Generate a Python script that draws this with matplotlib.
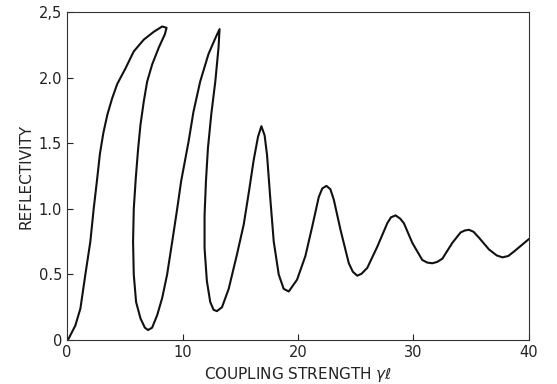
import matplotlib.pyplot as plt
import numpy as np

# coupling strength (gamma*l) and reflectivity in order
coupling = [0, 0.14, 0.72, 1.16, 1.59, 2.02, 2.31, 2.6, 2.85, 3.15, 3.5, 3.9,
            4.34, 5.06, 5.78, 6.65, 7.52, 8.24, 8.62,
            8.47, 7.95, 7.37, 6.94, 6.65, 6.36, 6.16, 5.96, 5.78, 5.72,
            5.78, 5.98, 6.36, 6.74, 7.02, 7.37, 7.81, 8.24, 8.67, 9.11,
            9.54, 9.88, 10.52, 10.95, 11.53, 12.25, 12.84, 13.21,
            13.12, 12.84, 12.49, 12.2, 12.03, 11.91, 11.91, 12.11, 12.4,
            12.69, 12.98, 13.42, 14.0, 14.71, 15.3, 15.75, 16.16, 16.54,
            16.83, 17.11, 17.32, 17.6, 17.9, 18.33, 18.76, 19.2,
            19.92, 20.64, 21.22, 21.8, 22.1, 22.46, 22.8, 23.1, 23.68, 24.4,
            24.75, 25.13, 25.5,
            26.0, 26.86, 27.73, 28.05, 28.45, 28.85, 29.17, 29.9, 30.76, 31.2,
            31.63, 32.05, 32.5, 33.36, 34.08, 34.45, 34.8, 35.2, 35.67, 36.54,
            37.2, 37.7, 38.2, 38.71, 40.0]
reflectivity = [0, 0.01, 0.11, 0.24, 0.50, 0.75, 1.0, 1.22, 1.42, 1.58, 1.72, 1.84,
                1.95, 2.07, 2.20, 2.29, 2.35, 2.39, 2.38,
                2.33, 2.23, 2.10, 1.97, 1.82, 1.64, 1.46, 1.24, 1.0, 0.75,
                0.50, 0.29, 0.165, 0.094, 0.076, 0.094, 0.19, 0.32, 0.50, 0.75,
                1.0, 1.21, 1.51, 1.74, 1.97, 2.18, 2.30, 2.37,
                2.23, 1.97, 1.72, 1.46, 1.21, 0.95, 0.70, 0.45, 0.29,
                0.23, 0.22, 0.25, 0.39, 0.65, 0.88, 1.13, 1.37, 1.55,
                1.63, 1.56, 1.41, 1.08, 0.75, 0.50, 0.39, 0.37,
                0.46, 0.64, 0.86, 1.09, 1.155, 1.175, 1.15, 1.07, 0.84, 0.585,
                0.52, 0.49, 0.505,
                0.55, 0.71, 0.89, 0.935, 0.95, 0.925, 0.89, 0.74, 0.61, 0.59,
                0.585, 0.595, 0.62, 0.74, 0.82, 0.835, 0.84, 0.825, 0.78, 0.69,
                0.645, 0.63, 0.64, 0.675, 0.77]

xticks = [0, 10, 20, 30, 40]
yticks = [0, 0.5, 1.0, 1.5, 2.0, 2.5]
ytick_labels = ['0', '0.5', '1.0', '1.5', '2.0', '2,5']

plt.rcParams['font.family'] = 'DejaVu Sans'

fig = plt.figure(figsize=(5.57, 3.84), dpi=100)
ax = fig.add_axes([0.1203, 0.1146, 0.8294, 0.854])

ax.plot(coupling, reflectivity, color='#111111', lw=1.5,
        solid_joinstyle='round', solid_capstyle='round')

ax.set_xlim(0, 40)
ax.set_ylim(0, 2.5)
ax.set_xticks(xticks)
ax.set_yticks(yticks)
ax.set_yticklabels(ytick_labels)
ax.tick_params(axis='both', direction='in', length=4, width=0.8,
               labelsize=10.5, colors='#222222')
for s in ax.spines.values():
  s.set_linewidth(0.8)
  s.set_color('#333333')

ax.set_xlabel(r'COUPLING STRENGTH $\gamma\ell$', fontsize=11, color='#222222')
ax.set_ylabel('REFLECTIVITY', fontsize=11, color='#222222')

fig.savefig('out.png', dpi=100)
